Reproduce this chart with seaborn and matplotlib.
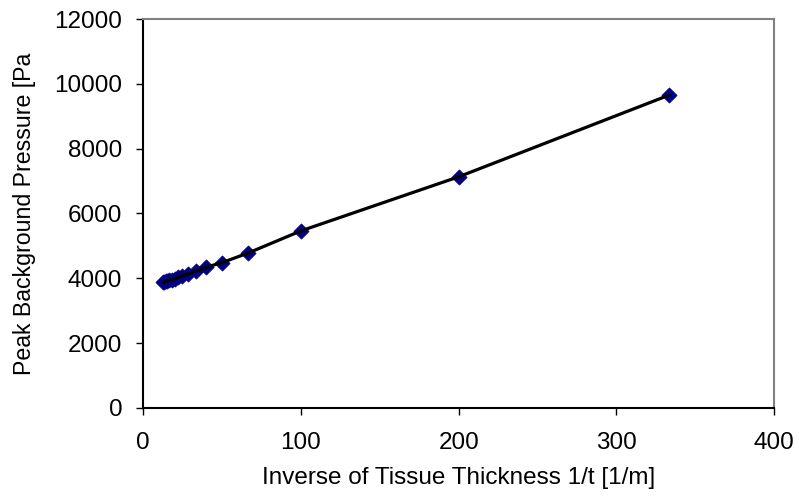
import matplotlib
matplotlib.use("Agg")
import matplotlib.pyplot as plt
import seaborn as sns
import pandas as pd

inv_thickness = [12.5, 13.3, 14.3, 15.4, 16.7, 18.2, 20.0, 22.2, 25.0, 28.6,
                 33.3, 40.0, 50.0, 66.7, 100.0, 200.0, 333.3]
peak_pressure = [3870, 3880, 3900, 3920, 3940, 3960, 3990, 4030, 4080, 4140,
                 4220, 4340, 4480, 4780, 5460, 7130, 9650]
x_ticks = [0, 100, 200, 300, 400]
y_ticks = [0, 2000, 4000, 6000, 8000, 10000, 12000]

df = pd.DataFrame({"x": inv_thickness, "y": peak_pressure})

sns.set_theme(style="white")
plt.rcParams["font.family"] = ["Liberation Sans", "DejaVu Sans"]
plt.rcParams["text.color"] = "black"
plt.rcParams["axes.labelcolor"] = "black"
plt.rcParams["xtick.color"] = "black"
plt.rcParams["ytick.color"] = "black"

fig = plt.figure(figsize=(7.99, 5.01), dpi=100)
ax = fig.add_axes([0.179, 0.186, 0.790, 0.776])

sns.lineplot(data=df, x="x", y="y", ax=ax, color="black", linewidth=2.3, sort=True, zorder=3)
sns.scatterplot(data=df, x="x", y="y", ax=ax, marker="D", s=60, color="#000080",
                edgecolor="#000080", linewidth=0.5, zorder=2)

ax.set_xlim(0, 400)
ax.set_ylim(0, 12000)
ax.set_xticks(x_ticks)
ax.set_yticks(y_ticks)
ax.tick_params(axis="both", direction="out", length=5, width=1, color="black",
               labelcolor="black", labelsize=17.5, left=True, bottom=True)
ax.tick_params(axis="y", pad=10)
ax.tick_params(axis="x", pad=12.5)

for s in ["left", "bottom"]:
    ax.spines[s].set_color("black")
    ax.spines[s].set_linewidth(1.5)
for s in ["top", "right"]:
    ax.spines[s].set_color("#808080")
    ax.spines[s].set_linewidth(1.5)

ax.set_xlabel("Inverse of Tissue Thickness 1/t [1/m]", fontsize=17.5, labelpad=9, color="black")
ax.set_ylabel("Peak Background Pressure [Pa", fontsize=16.7, labelpad=13, color="black")

fig.savefig("out.png", dpi=100)
